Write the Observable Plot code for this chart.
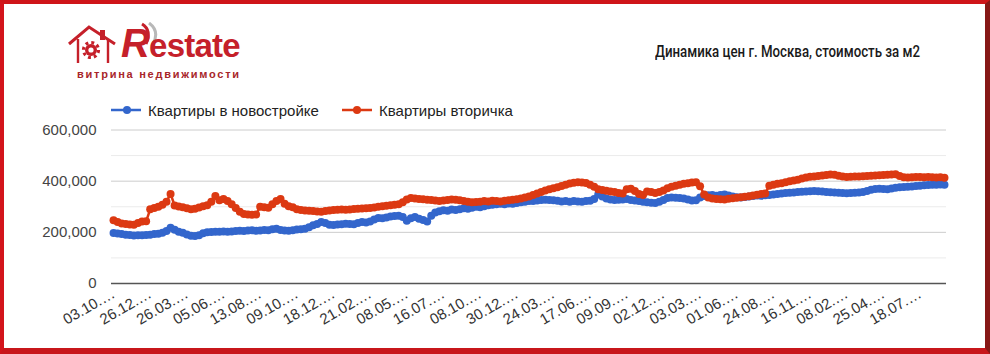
<!DOCTYPE html>
<html><head><meta charset="utf-8">
<script src="https://cdn.jsdelivr.net/npm/d3@7"></script>
<script src="https://cdn.jsdelivr.net/npm/@observablehq/plot@0.6"></script>
<style>
html,body{margin:0;padding:0;background:#fff;}
#page{position:relative;width:990px;height:354px;overflow:hidden;background:#fff;font-family:"Liberation Sans",Arial,sans-serif;}
#frame{position:absolute;left:0;top:0;width:990px;height:354px;box-sizing:border-box;border-style:solid;border-width:4px 5px 6px 4px;border-color:#cf1519 #861816 #c8161b #d3141b;pointer-events:none;z-index:5;}
#logo{position:absolute;left:66px;top:22px;}
#brand{position:absolute;left:121px;top:21px;line-height:44px;color:#c5202a;font-family:"Liberation Sans",Arial,sans-serif;font-weight:bold;white-space:nowrap;letter-spacing:-0.8px;}
#brand .r{font-size:40px;font-style:italic;}
#brand .e{font-size:33px;}
#slogan{position:absolute;left:77px;top:68px;line-height:12px;color:#a8262a;font-size:11px;font-weight:bold;letter-spacing:1.75px;white-space:nowrap;}
#title{position:absolute;left:655px;top:42px;font-family:"Roboto","Liberation Sans",sans-serif;font-weight:500;font-size:16px;color:#1a1a1a;white-space:nowrap;transform-origin:0 50%;}
.leg{position:absolute;top:101px;height:18px;display:flex;align-items:center;font-size:15px;color:#222;white-space:nowrap;}
.leg svg{margin-right:7px;}
#chart{position:absolute;left:0;top:110px;}
</style></head>
<body>
<div id="page">
  <svg id="logo" width="52" height="44" viewBox="0 0 52 44">
    <path d="M3 22 L23 5 L49 22" fill="none" stroke="#c5202a" stroke-width="3" stroke-linejoin="miter"/>
    <path d="M12 17 V41 M42 17 V41" fill="none" stroke="#c5202a" stroke-width="2.4"/>
    <rect x="34" y="8" width="5" height="10" fill="#c5202a"/>
    <circle cx="25" cy="28" r="6" fill="#c5202a"/>
    <circle cx="25" cy="28" r="7.5" fill="none" stroke="#c5202a" stroke-width="3.2" stroke-dasharray="2.9 3"/>
    <circle cx="25" cy="28" r="2.6" fill="#fff"/>
  </svg>
  <svg style="position:absolute;left:136px;top:22px" width="26" height="24" viewBox="0 0 26 24">
    <path d="M6 2 Q16 8 10 22" fill="none" stroke="#c5202a" stroke-width="3"/>
    <path d="M13 1 Q24 9 17 22" fill="none" stroke="#b8b8b8" stroke-width="3"/>
  </svg>
  <div id="brand"><span class="r">R</span><span class="e">estate</span></div>
  <div id="slogan">витрина недвижимости</div>
  <div id="title">Динамика цен г. Москва, стоимость за м2</div>
  <div class="leg" style="left:111px"><svg width="30" height="12"><line x1="0" y1="6" x2="30" y2="6" stroke="#3366cc" stroke-width="2.5"/><circle cx="16" cy="6" r="4" fill="#3366cc"/></svg>Квартиры в новостройке</div>
  <div class="leg" style="left:342px"><svg width="30" height="12"><line x1="0" y1="6" x2="30" y2="6" stroke="#dc3912" stroke-width="2.5"/><circle cx="15" cy="6" r="4" fill="#dc3912"/></svg>Квартиры вторичка</div>
  <div id="chart"></div>
  <div id="frame"></div>
</div>
<script>
const seriesNames = ["Квартиры в новостройке", "Квартиры вторичка"];
const seriesColors = ["#3366cc", "#dc3912"];

const tickLabels = ["03.10.…","26.12.…","26.03.…","05.06.…","13.08.…","09.10.…","18.12.…","21.02.…","08.05.…","16.07.…","08.10.…","30.12.…","24.03.…","17.06.…","09.09.…","02.12.…","03.03.…","01.06.…","24.08.…","16.11.…","08.02.…","25.04.…","18.07.…"];
const labelEvery = 9;

const yMajorTicks = [0, 200000, 400000, 600000];
const yMinorTicks = [100000, 300000, 500000];

const newBuild = [
197000,195000,193000,191000,190000,188000,189000,189000,190000,191000,
193000,194000,198000,205000,218000,210000,202000,198000,192000,187000,
186000,189000,196000,200000,201000,202000,202000,203000,202000,203000,
205000,206000,205000,207000,208000,206000,207000,209000,208000,212000,
214000,209000,207000,206000,208000,211000,212000,214000,220000,228000,
233000,240000,236000,230000,229000,231000,232000,234000,233000,232000,
236000,240000,238000,242000,250000,256000,255000,258000,262000,264000,
265000,260000,245000,255000,260000,253000,248000,242000,265000,278000,
282000,286000,284000,289000,287000,290000,294000,292000,296000,300000,
298000,302000,306000,308000,310000,312000,310000,313000,312000,315000,
318000,320000,322000,322000,324000,326000,327000,326000,325000,323000,
321000,322000,320000,322000,321000,320000,322000,323000,330000,348000,
340000,332000,328000,326000,327000,328000,330000,326000,324000,322000,
320000,318000,316000,315000,320000,326000,334000,336000,335000,334000,
332000,328000,324000,325000,336000,342000,345000,346000,343000,346000,
348000,344000,340000,337000,336000,338000,340000,342000,344000,343000,
345000,346000,348000,350000,352000,354000,355000,356000,358000,359000,
360000,361000,362000,361000,360000,358000,357000,356000,355000,354000,
353000,354000,355000,356000,358000,362000,366000,369000,370000,369000,
368000,371000,374000,376000,377000,378000,379000,381000,382000,384000,
385000,386000,386000,387000,386000];

const resale = [
247000,240000,235000,233000,231000,230000,236000,242000,243000,290000,
295000,300000,308000,320000,350000,305000,301000,298000,294000,290000,
292000,297000,302000,306000,320000,342000,325000,330000,322000,310000,
295000,280000,272000,270000,269000,270000,300000,298000,296000,310000,
322000,330000,312000,302000,298000,290000,287000,285000,284000,283000,
281000,280000,283000,285000,287000,288000,289000,288000,289000,291000,
292000,293000,294000,295000,297000,300000,302000,304000,306000,308000,
310000,318000,328000,334000,332000,330000,329000,327000,326000,324000,
322000,324000,326000,328000,327000,325000,322000,320000,318000,319000,
320000,322000,321000,323000,322000,321000,323000,325000,327000,329000,
332000,336000,340000,346000,352000,358000,364000,368000,372000,376000,
381000,386000,391000,394000,396000,395000,393000,386000,378000,368000,
365000,363000,360000,358000,354000,352000,368000,370000,362000,350000,
346000,360000,358000,354000,358000,364000,372000,378000,382000,386000,
390000,392000,395000,396000,380000,348000,336000,332000,330000,329000,
328000,331000,333000,335000,337000,339000,341000,344000,347000,350000,
352000,382000,386000,390000,392000,396000,400000,403000,406000,410000,
414000,417000,418000,420000,422000,424000,426000,425000,421000,418000,
416000,417000,418000,418000,419000,420000,421000,422000,423000,424000,
425000,426000,427000,420000,415000,414000,415000,416000,416000,415000,
416000,415000,414000,415000,413000];

const rowsNew = newBuild.map((v, i) => ({i, v}));
const rowsResale = resale.map((v, i) => ({i, v}));
const n = newBuild.length;
const tickIdx = tickLabels.map((_, k) => k * labelEvery);

const chart = Plot.plot({
  width: 990,
  height: 240,
  marginLeft: 111,
  marginRight: 44,
  marginTop: 19.5,
  marginBottom: 67,
  style: {fontFamily: '"Liberation Sans", Arial, sans-serif', fontSize: "15px", color: "#444", background: "transparent"},
  x: {domain: [-0.5, n - 0.5]},
  y: {domain: [0, 600000]},
  marks: [
    Plot.ruleY(yMinorTicks, {stroke: "#ebebeb", strokeWidth: 1}),
    Plot.ruleY(yMajorTicks.filter(d => d > 0), {stroke: "#cccccc", strokeWidth: 1}),
    Plot.axisY({ticks: yMajorTicks, tickSize: 0, tickPadding: 15, tickFormat: d3.format(","), label: null, fill: "#444"}),
    Plot.axisX({ticks: tickIdx, tickSize: 0, tickPadding: 9, tickRotate: -30, label: null, fill: "#333",
      tickFormat: d => tickLabels[tickIdx.indexOf(d)]}),
    Plot.line(rowsNew, {x: "i", y: "v", stroke: seriesColors[0], strokeWidth: 2.5}),
    Plot.dot(rowsNew, {x: "i", y: "v", r: 4, fill: seriesColors[0], stroke: null}),
    Plot.line(rowsResale, {x: "i", y: "v", stroke: seriesColors[1], strokeWidth: 2.5}),
    Plot.dot(rowsResale, {x: "i", y: "v", r: 4, fill: seriesColors[1], stroke: null}),
    Plot.ruleY([0], {stroke: "#555", strokeWidth: 1.5})
  ]
});
document.getElementById("chart").appendChild(chart);

// compress the title horizontally to the narrow width of the reference
const t = document.getElementById("title");
const w = t.getBoundingClientRect().width;
t.style.transform = `scaleX(${265 / w})`;
</script>
</body></html>
